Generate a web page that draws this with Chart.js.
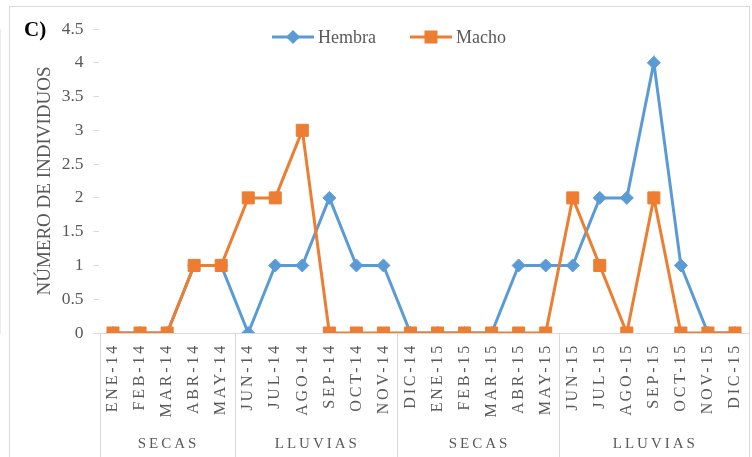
<!DOCTYPE html>
<html lang="es">
<head>
<meta charset="UTF-8">
<title>Número de individuos</title>
<script src="https://cdn.jsdelivr.net/npm/chart.js"></script>
<style>
  body { margin: 0; background: #fff; }
</style>
</head>
<body>
<canvas id="chart" width="752" height="457"></canvas>
<script>
const months = ['ENE-14', 'FEB-14', 'MAR-14', 'ABR-14', 'MAY-14', 'JUN-14', 'JUL-14', 'AGO-14', 'SEP-14', 'OCT-14', 'NOV-14', 'DIC-14',
                'ENE-15', 'FEB-15', 'MAR-15', 'ABR-15', 'MAY-15', 'JUN-15', 'JUL-15', 'AGO-15', 'SEP-15', 'OCT-15', 'NOV-15', 'DIC-15'];
const hembra = [0, 0, 0, 1, 1, 0, 1, 1, 2, 1, 1, 0, 0, 0, 0, 1, 1, 1, 2, 2, 4, 1, 0, 0];
const macho  = [0, 0, 0, 1, 1, 2, 2, 3, 0, 0, 0, 0, 0, 0, 0, 0, 0, 2, 1, 0, 2, 0, 0, 0];
const groupLabels = ['SECAS', 'LLUVIAS', 'SECAS', 'LLUVIAS'];
const groupSizes = [5, 6, 6, 7];
const yTicks = [0, 0.5, 1, 1.5, 2, 2.5, 3, 3.5, 4, 4.5];

const serif = 'Liberation Serif';
const grey = '#595959';
const lineGrey = '#d9d9d9';

// x tick labels are spaced out like the original; reset before the lines and y axis
const spacing = {
  id: 'spacing',
  beforeDraw(chart) { chart.ctx.letterSpacing = '2.8px'; },
  beforeDatasetsDraw(chart) { chart.ctx.letterSpacing = '0px'; }
};

const extras = {
  id: 'extras',
  afterDraw(chart) {
    const ctx = chart.ctx;
    const x = chart.scales.x;
    const area = chart.chartArea;
    ctx.save();

    // outer frame of the figure
    ctx.strokeStyle = lineGrey;
    ctx.lineWidth = 1;
    ctx.strokeRect(9.5, 6.5, 740, 470);

    // group separators + group names under the month labels
    let start = 0;
    const bounds = [area.left];
    groupSizes.forEach((n) => {
      const end = start + n - 1;
      const right = end === months.length - 1 ? area.right : (x.getPixelForValue(end) + x.getPixelForValue(end + 1)) / 2;
      bounds.push(right);
      start += n;
    });
    bounds.forEach((bx, i) => {
      if (i === bounds.length - 1) return;
      const px = Math.round(bx) + 0.5;
      ctx.beginPath();
      ctx.moveTo(px, area.bottom);
      ctx.lineTo(px, chart.height);
      ctx.stroke();
    });
    ctx.fillStyle = grey;
    ctx.font = '15px "' + serif + '"';
    ctx.letterSpacing = '3px';
    ctx.textAlign = 'center';
    ctx.textBaseline = 'middle';
    groupLabels.forEach((g, i) => {
      ctx.fillText(g, (bounds[i] + bounds[i + 1]) / 2 + 1.5, 444);
    });
    ctx.letterSpacing = '0px';

    // legend: line with marker, then name
    let lx = 272;
    const ly = 37;
    ctx.font = '18px "' + serif + '"';
    ctx.textAlign = 'left';
    chart.data.datasets.forEach((ds) => {
      ctx.strokeStyle = ds.borderColor;
      ctx.fillStyle = ds.borderColor;
      ctx.lineWidth = 3;
      ctx.beginPath();
      ctx.moveTo(lx, ly);
      ctx.lineTo(lx + 42, ly);
      ctx.stroke();
      const cx = lx + 21;
      ctx.beginPath();
      if (ds.pointStyle === 'rect') {
        ctx.rect(cx - 6.5, ly - 6.5, 13, 13);
      } else {
        ctx.moveTo(cx, ly - 7); ctx.lineTo(cx + 7, ly); ctx.lineTo(cx, ly + 7); ctx.lineTo(cx - 7, ly); ctx.closePath();
      }
      ctx.fill();
      ctx.fillStyle = grey;
      ctx.fillText(ds.label, lx + 46, ly + 1);
      lx += 46 + ctx.measureText(ds.label).width + 34;
    });

    // panel letter
    ctx.fillStyle = '#000';
    ctx.font = 'bold 21px "' + serif + '"';
    ctx.fillText('C)', 24, 31);
    ctx.restore();
  }
};

new Chart(document.getElementById('chart'), {
  type: 'line',
  data: {
    labels: months,
    datasets: [{
      label: 'Hembra',
      data: hembra,
      borderColor: '#5B9BD5',
      backgroundColor: '#5B9BD5',
      borderWidth: 3,
      pointStyle: 'rectRot',
      pointRadius: 6.5,
      pointBorderWidth: 1,
      tension: 0,
      order: 1
    }, {
      label: 'Macho',
      data: macho,
      borderColor: '#ED7D31',
      backgroundColor: '#ED7D31',
      borderWidth: 3,
      pointStyle: 'rect',
      pointRadius: 8.5,
      pointBorderWidth: 1,
      tension: 0,
      order: 0
    }]
  },
  options: {
    responsive: false,
    animation: false,
    layout: { autoPadding: false, padding: { left: 0, right: 3.5, top: 29, bottom: 0 } },
    scales: {
      x: {
        offset: true,
        grid: { display: false, drawTicks: false },
        border: { color: lineGrey },
        ticks: {
          color: grey,
          font: { family: serif, size: 16 },
          minRotation: 90,
          maxRotation: 90,
          autoSkip: false,
          padding: 10
        },
        afterFit: (s) => { s.height = 124; s.paddingLeft = 0; s.paddingRight = 0; }
      },
      y: {
        min: 0,
        max: 4.5,
        afterBuildTicks: (s) => { s.ticks = yTicks.map((v) => ({ value: v })); },
        grid: { drawOnChartArea: false, tickLength: 6, color: lineGrey, z: 1 },
        border: { color: lineGrey },
        ticks: {
          color: grey,
          font: { family: serif, size: 17.5 },
          padding: 10,
          z: 1,
          callback: (v) => String(v)
        },
        title: {
          display: true,
          text: 'NÚMERO DE INDIVIDUOS',
          color: grey,
          font: { family: serif, size: 19 },
          padding: { top: 34, bottom: 0 }
        },
        afterFit: (s) => { s.width = 99.5; }
      }
    },
    plugins: {
      legend: { display: false },
      tooltip: { enabled: false }
    }
  },
  plugins: [spacing, extras]
});
</script>
</body>
</html>
